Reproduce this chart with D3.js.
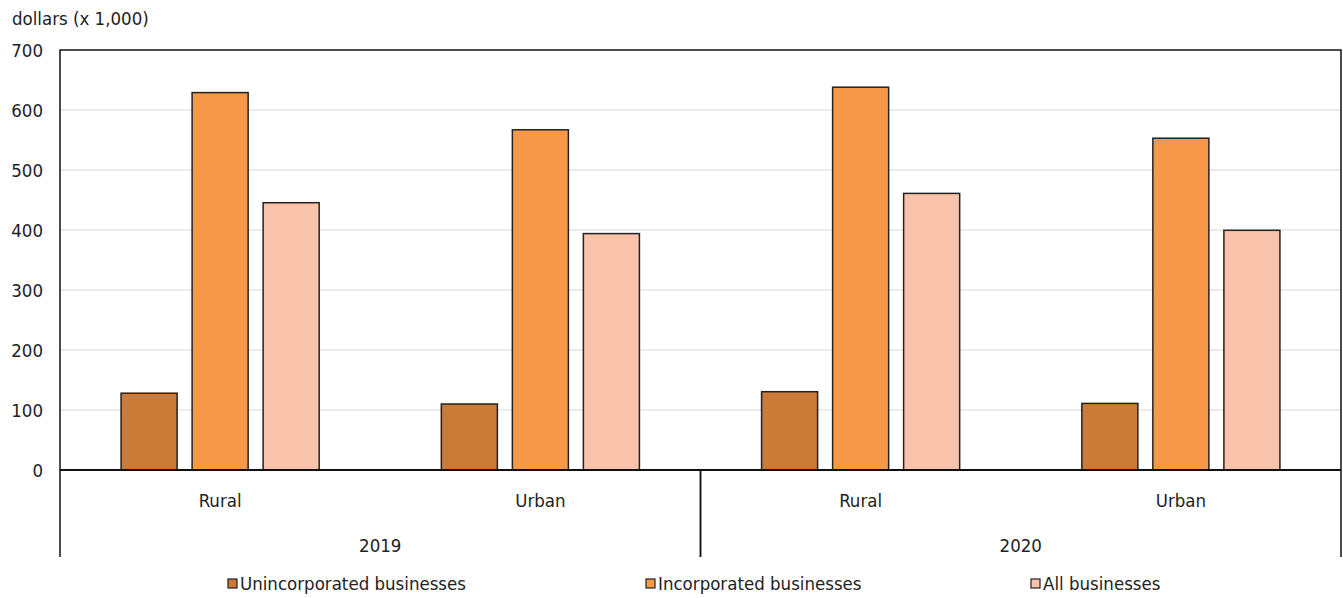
<!DOCTYPE html>
<html>
<head>
<meta charset="utf-8">
<script src="https://cdn.jsdelivr.net/npm/d3@7"></script>
<style>
  html, body { margin: 0; padding: 0; background: #fff; }
  svg { display: block; }
  text { font-family: "DejaVu Sans Condensed", "Liberation Sans Narrow", sans-serif; font-stretch: condensed; fill: #222; }
</style>
</head>
<body>
<svg id="chart" width="1343" height="598"></svg>
<script>
// Average value per business, thousands of dollars
const years = ["2019", "2020"];
const areas = ["Rural", "Urban"];
const seriesNames = ["Unincorporated businesses", "Incorporated businesses", "All businesses"];
const seriesColors = ["#CB7A38", "#F69848", "#F8C3AA"];
const unincorporated = [128, 110, 130.5, 111];
const incorporated = [629, 567, 638, 553];
const allBusinesses = [445.5, 394, 461, 399.5];
const yTicks = [0, 100, 200, 300, 400, 500, 600, 700];

const seriesValues = [unincorporated, incorporated, allBusinesses];
const groups = [];
years.forEach(y => areas.forEach(a => groups.push({ year: y, area: a, key: y + "-" + a })));

const FS = 18.5;
const svg = d3.select("#chart");
const m = { left: 60, right: 1341, top: 50, bottom: 470 };

const x0 = d3.scaleBand().domain(groups.map(g => g.key)).range([m.left, m.right]).padding(0);
const x1 = d3.scaleBand().domain(seriesNames).range([0, x0.bandwidth()])
  .paddingInner(0.211).paddingOuter(0.86);
const y = d3.scaleLinear().domain([0, 700]).range([m.bottom, m.top]);

// gridlines
svg.append("g").selectAll("line").data(yTicks.filter(t => t > 0 && t < 700)).join("line")
  .attr("x1", m.left).attr("x2", m.right)
  .attr("y1", d => y(d)).attr("y2", d => y(d))
  .attr("stroke", "#d9d9d9").attr("stroke-width", 1);

// y axis tick labels
const yAxis = d3.axisLeft(y).tickValues(yTicks).tickSize(0).tickPadding(17);
const gy = svg.append("g").attr("transform", `translate(${m.left},0)`).call(yAxis);
gy.select(".domain").remove();
gy.selectAll("text").attr("font-size", FS).style("font-family", null).attr("dy", "0.35em");
gy.attr("font-family", null).attr("font-size", null);

// bars
const barData = [];
groups.forEach((g, gi) => seriesNames.forEach((s, si) => barData.push({ g: g.key, s, si, v: seriesValues[si][gi] })));
svg.append("g").selectAll("rect").data(barData).join("rect")
  .attr("x", d => x0(d.g) + x1(d.s))
  .attr("width", x1.bandwidth())
  .attr("y", d => y(d.v))
  .attr("height", d => y(0) - y(d.v))
  .attr("fill", d => seriesColors[d.si])
  .attr("stroke", "#222").attr("stroke-width", 1.5);

// plot frame
svg.append("path")
  .attr("d", `M${m.left},${m.bottom}V${m.top}H${m.right}V${m.bottom}`)
  .attr("fill", "none").attr("stroke", "#111").attr("stroke-width", 1.5);
svg.append("line").attr("x1", m.left).attr("x2", m.right).attr("y1", y(0)).attr("y2", y(0))
  .attr("stroke", "#111").attr("stroke-width", 2);

// multi-level category axis
const axisBottom = 557;
const yearX = d3.scaleBand().domain(years).range([m.left, m.right]);
years.forEach(yr => {
  [yearX(yr), yearX(yr) + yearX.bandwidth()].forEach(xx => {
    svg.append("line").attr("x1", xx).attr("x2", xx).attr("y1", y(0)).attr("y2", axisBottom)
      .attr("stroke", "#111").attr("stroke-width", 1.5);
  });
});
svg.append("g").selectAll("text").data(groups).join("text")
  .attr("x", g => x0(g.key) + x0.bandwidth() / 2).attr("y", 507)
  .attr("text-anchor", "middle").attr("font-size", FS).text(g => g.area);
svg.append("g").selectAll("text").data(years).join("text")
  .attr("x", yr => yearX(yr) + yearX.bandwidth() / 2).attr("y", 552)
  .attr("text-anchor", "middle").attr("font-size", FS).text(yr => yr);

// axis title
svg.append("text").attr("x", 12).attr("y", 25).attr("font-size", FS).text("dollars (x 1,000)");

// legend
const legendX = [228, 646, 1031];
const lg = svg.append("g").selectAll("g").data(seriesNames).join("g")
  .attr("transform", (d, i) => `translate(${legendX[i]},579)`);
lg.append("rect").attr("width", 9).attr("height", 9)
  .attr("fill", (d, i) => seriesColors[i]).attr("stroke", "#222").attr("stroke-width", 1.2);
lg.append("text").attr("x", 12).attr("y", 11).attr("font-size", FS).text(d => d);
</script>
</body>
</html>
